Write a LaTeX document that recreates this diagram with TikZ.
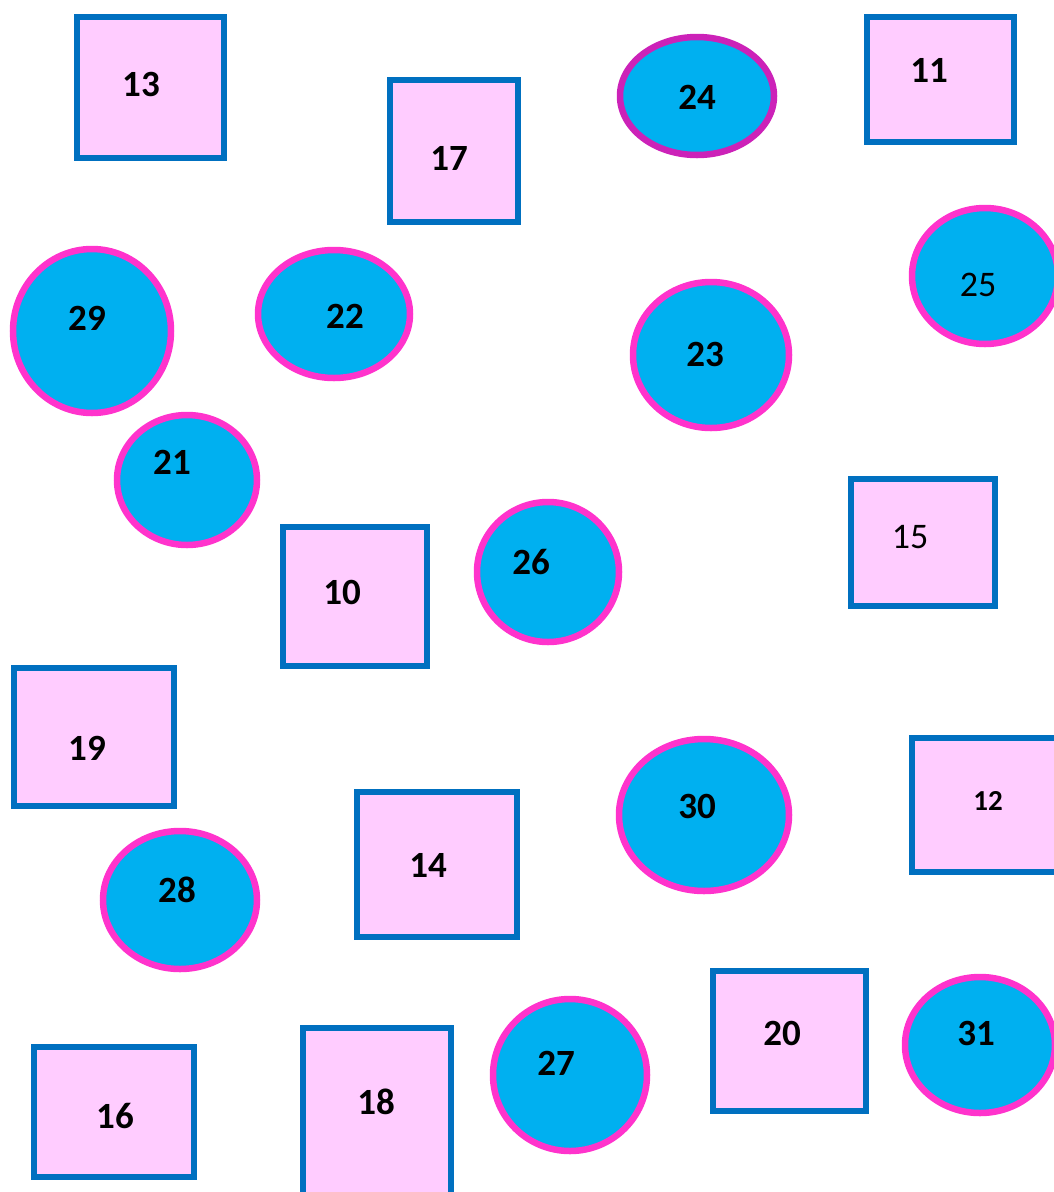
\documentclass[tikz,border=0pt]{standalone}
\usepackage{fontspec}
\setmainfont{Carlito}
\definecolor{boxblue}{HTML}{0070C0}
\definecolor{boxpink}{HTML}{FFCCFF}
\definecolor{circcyan}{HTML}{00B0F0}
\definecolor{circmag}{HTML}{FF33CC}
\definecolor{circdark}{HTML}{CC22B8}
\tikzset{
  sqbox/.style={draw=boxblue,fill=boxpink,line width=6.5pt},
  circ/.style={draw=circmag,fill=circcyan,line width=6.5pt},
  lbl/.style={inner sep=0pt,font=\fontsize{37}{42}\selectfont\bfseries},
  lblreg/.style={inner sep=0pt,font=\fontsize{36}{42}\selectfont},
  lblsmall/.style={inner sep=0pt,font=\fontsize{29}{34}\selectfont\bfseries}
}
\begin{document}
\begin{tikzpicture}[x=1pt,y=-1pt]
\useasboundingbox (0,0) rectangle (1054,1192);
\clip (0,0) rectangle (1054,1192);
% squares
\draw[sqbox] (77,17) rectangle (224,158);
\draw[sqbox] (390,80) rectangle (518,222);
\draw[sqbox] (867,17) rectangle (1014,142);
\draw[sqbox] (283,527) rectangle (427,666);
\draw[sqbox] (851,479) rectangle (995,606);
\draw[sqbox] (14,668) rectangle (174,806);
\draw[sqbox] (912,738) rectangle (1070,872);
\draw[sqbox] (357,792) rectangle (517,937);
\draw[sqbox] (34,1047) rectangle (194,1177);
\draw[sqbox] (303,1028) rectangle (451,1210);
\draw[sqbox] (713,971) rectangle (866,1111);
% circles
\draw[circ,draw=circdark] (697,96) ellipse [x radius=77pt, y radius=59pt];
\draw[circ] (92,331) ellipse [x radius=79pt, y radius=82pt];
\draw[circ] (334,314) ellipse [x radius=76pt, y radius=64pt];
\draw[circ] (711,355) ellipse [x radius=78pt, y radius=73pt];
\draw[circ] (985,276) ellipse [x radius=73pt, y radius=68pt];
\draw[circ] (187,480) ellipse [x radius=70pt, y radius=65pt];
\draw[circ] (548,572) ellipse [x radius=71pt, y radius=70pt];
\draw[circ] (704,815) ellipse [x radius=85pt, y radius=76pt];
\draw[circ] (180,900) ellipse [x radius=77pt, y radius=69pt];
\draw[circ] (570,1075) ellipse [x radius=77pt, y radius=76pt];
\draw[circ] (980,1045) ellipse [x radius=75pt, y radius=68pt];
% labels
\node[lbl] (n13) at (141,84) {13};
\node[lbl] (n17) at (449,158) {17};
\node[lbl] (n24) at (697,97) {24};
\node[lbl] (n11) at (929,70) {11};
\node[lbl] (n29) at (87,318) {29};
\node[lbl] (n22) at (345,316) {22};
\node[lbl] (n23) at (705,354) {23};
\node[lblreg] (n25) at (978,285) {25};
\node[lbl] (n21) at (172,462) {21};
\node[lbl] (n10) at (342,592) {10};
\node[lbl] (n26) at (531,562) {26};
\node[lblreg] (n15) at (910,537) {15};
\node[lbl] (n19) at (87,748) {19};
\node[lbl] (n30) at (697,806) {30};
\node[lblsmall] (n12) at (988,801) {12};
\node[lbl] (n14) at (428,865) {14};
\node[lbl] (n28) at (177,890) {28};
\node[lbl] (n16) at (115,1116) {16};
\node[lbl] (n18) at (376,1102) {18};
\node[lbl] (n27) at (556,1063) {27};
\node[lbl] (n20) at (782,1033) {20};
\node[lbl] (n31) at (976,1033) {31};
\end{tikzpicture}
\end{document}
